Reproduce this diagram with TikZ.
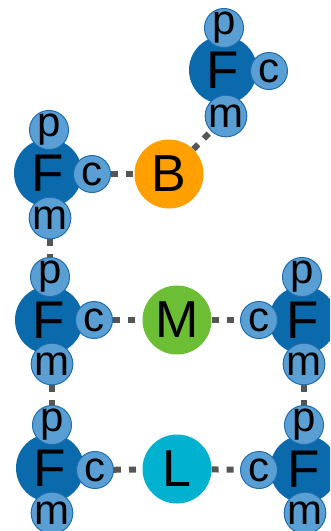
\documentclass[tikz,border=0pt]{standalone}
\usepackage{fontspec}
\setmainfont{Liberation Sans}
\usetikzlibrary{backgrounds}
\definecolor{fbig}{HTML}{0A6AAB}
\definecolor{fsmall}{HTML}{5A9FD4}
\definecolor{fedge}{HTML}{1F6DAE}
\definecolor{borange}{HTML}{FF9F00}
\definecolor{mgreen}{HTML}{6CBF35}
\definecolor{lcyan}{HTML}{00B2CF}
\definecolor{link}{HTML}{555555}
\tikzset{
  bigf/.style={circle,fill=fbig,minimum size=68pt,inner sep=0pt,font=\fontsize{53}{53}\selectfont},
  small/.style={circle,fill=fsmall,draw=fedge,line width=1pt,minimum size=37pt,inner sep=0pt,font=\fontsize{42}{42}\selectfont},
  hub/.style={circle,minimum size=69pt,inner sep=0pt,font=\fontsize{52}{52}\selectfont},
  linkline/.style={draw=link,line width=6pt,dash pattern=on 7pt off 8pt}
}
\newcommand\fgroup[5]{%
  \node[bigf] (#1) at #2 {F};
  \node[small] (#1p) at #3 {p};
  \node[small] (#1c) at #4 {c};
  \node[small] (#1m) at #5 {m};
}
\begin{document}
\begin{tikzpicture}[x=1pt,y=-1pt]
\useasboundingbox (0,0) rectangle (330,531);
\clip (0,0) rectangle (330,531);
% hubs
\node[hub,fill=borange] (B) at (169,174) {B};
\node[hub,fill=mgreen] (M) at (177,320) {M};
\node[hub,fill=lcyan] (L) at (177,469) {L};
% F groups
\fgroup{f1}{(223,70)}{(224,28)}{(269,71)}{(226,116)}
\fgroup{f2}{(48,173)}{(49,130)}{(92,174)}{(50,218)}
\fgroup{f3}{(49,320)}{(50,277)}{(94,320)}{(52,364)}
\fgroup{f4}{(303,320)}{(302,277)}{(259,320)}{(304,364)}
\fgroup{f5}{(50,468)}{(52,425)}{(95,470)}{(52,513)}
\fgroup{f6}{(304,469)}{(304,425)}{(259,470)}{(305,513)}
% connectors behind
\begin{scope}[on background layer]
\path[linkline] (B) -- (f1m);
\path[linkline] (f2c) -- (B);
\path[linkline] (f2m) -- (f3p);
\path[linkline] (f3c) -- (M);
\path[linkline] (M) -- (f4c);
\path[linkline] (f3m) -- (f5p);
\path[linkline] (f4m) -- (f6p);
\path[linkline] (f5c) -- (L);
\path[linkline] (L) -- (f6c);
\end{scope}
\end{tikzpicture}
\end{document}
